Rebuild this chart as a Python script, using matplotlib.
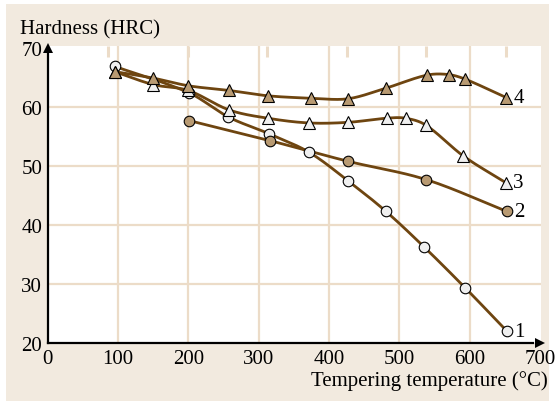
import numpy as np
import matplotlib
matplotlib.use("Agg")
import matplotlib.pyplot as plt
from matplotlib.patches import Rectangle

# hardness vs tempering temperature, four steels
t1 = [95, 201, 257, 314, 372, 427, 481, 535, 594, 653]
h1 = [66.9, 62.4, 58.3, 55.5, 52.3, 47.5, 42.3, 36.3, 29.3, 22.0]

t2 = [201, 316, 427, 538, 653]
h2 = [57.7, 54.3, 50.8, 47.7, 42.3]

t3 = [95, 150, 200, 258, 313, 371, 427, 482, 509, 538, 591, 651]
h3 = [66.0, 63.8, 62.8, 59.5, 58.1, 57.3, 57.4, 58.1, 58.1, 56.9, 51.7, 47.2]

t4 = [95, 150, 200, 258, 313, 374, 427, 481, 539, 570, 594, 652]
h4 = [66.0, 64.9, 63.6, 62.8, 61.9, 61.5, 61.4, 63.2, 65.4, 65.5, 64.7, 61.6]

curve_labels = ["1", "2", "3", "4"]
top_marks = [86, 199, 312, 425, 538, 651]

BROWN = "#6e4510"
TAN = "#b89a72"
PALE = "#efefef"
BEIGE = "#f2eadf"
GRID = "#ecdcc8"


def smooth(x, y, n=40):
    # cubic hermite through the points, catmull-rom style tangents
    x = np.asarray(x, float)
    y = np.asarray(y, float)
    m = np.zeros_like(y)
    m[1:-1] = (y[2:] - y[:-2]) / (x[2:] - x[:-2])
    m[0] = (y[1] - y[0]) / (x[1] - x[0])
    m[-1] = (y[-1] - y[-2]) / (x[-1] - x[-2])
    xs, ys = [], []
    for i in range(len(x) - 1):
        h = x[i + 1] - x[i]
        s = np.linspace(0, 1, n)
        h00 = 2 * s**3 - 3 * s**2 + 1
        h10 = s**3 - 2 * s**2 + s
        h01 = -2 * s**3 + 3 * s**2
        h11 = s**3 - s**2
        xs.append(x[i] + s * h)
        ys.append(h00 * y[i] + h10 * h * m[i] + h01 * y[i + 1] + h11 * h * m[i + 1])
    return np.concatenate(xs), np.concatenate(ys)


plt.rcParams["font.family"] = ["Liberation Serif", "DejaVu Serif"]
plt.rcParams["font.size"] = 15

fig = plt.figure(figsize=(5.59, 4.02), dpi=100)
fig.patch.set_facecolor("white")
fig.patches.append(Rectangle((6 / 559, 0), 543 / 559, 397 / 402,
                             transform=fig.transFigure, facecolor=BEIGE,
                             edgecolor="none", zorder=-5))

ax = fig.add_axes([47.7 / 559, 1 - 344 / 402, 493.3 / 559, 297 / 402])
ax.set_facecolor("white")
ax.set_xlim(0, 701.4)
ax.set_ylim(20, 70.34)

for gx in range(100, 700, 100):
    ax.axvline(gx, color=GRID, lw=1.6, zorder=1)
for gy in range(30, 70, 10):
    ax.axhline(gy, color=GRID, lw=1.6, zorder=1)
for tx in top_marks:
    ax.plot([tx, tx], [70.34, 68.5], color=GRID, lw=2.2, zorder=1,
            solid_capstyle="butt")

for sp in ["top", "right"]:
    ax.spines[sp].set_visible(False)
for sp in ["left", "bottom"]:
    ax.spines[sp].set_linewidth(1.6)
ax.spines["bottom"].set_bounds(0, 690)
ax.spines["left"].set_bounds(20, 69)

# arrow heads on the axes
ax.plot(700, 20, marker=">", color="black", ms=7, clip_on=False, zorder=5,
        markeredgewidth=0)
ax.plot(0, 70, marker="^", color="black", ms=7, clip_on=False, zorder=5,
        markeredgewidth=0)

ax.set_xticks(range(0, 800, 100))
ax.set_yticks(range(20, 80, 10))
ax.tick_params(length=0, labelsize=15)
ax.tick_params(axis="x", pad=4)
ax.tick_params(axis="y", pad=4)

series = [(t1, h1, "o", PALE, 7.6), (t2, h2, "o", TAN, 7.6),
          (t3, h3, "^", PALE, 8.5), (t4, h4, "^", TAN, 8.5)]
for (tx, hy, mk, fc, ms), lab in zip(series, curve_labels):
    sx, sy = smooth(tx, hy)
    ax.plot(sx, sy, color=BROWN, lw=2.0, zorder=3)
    ax.plot(tx, hy, ls="none", marker=mk, ms=ms, mfc=fc, mec="black",
            mew=0.8, zorder=4)
    ax.text(tx[-1] + 10, hy[-1], lab, ha="left", va="center", fontsize=15)

fig.text(20 / 559, 1 - 30 / 402, "Hardness (HRC)", ha="left", va="center",
         fontsize=15)
fig.text(548 / 559, 1 - 381 / 402, "Tempering temperature (\u00b0C)",
         ha="right", va="center", fontsize=15)

fig.savefig("out.png", dpi=100, facecolor=fig.get_facecolor())
